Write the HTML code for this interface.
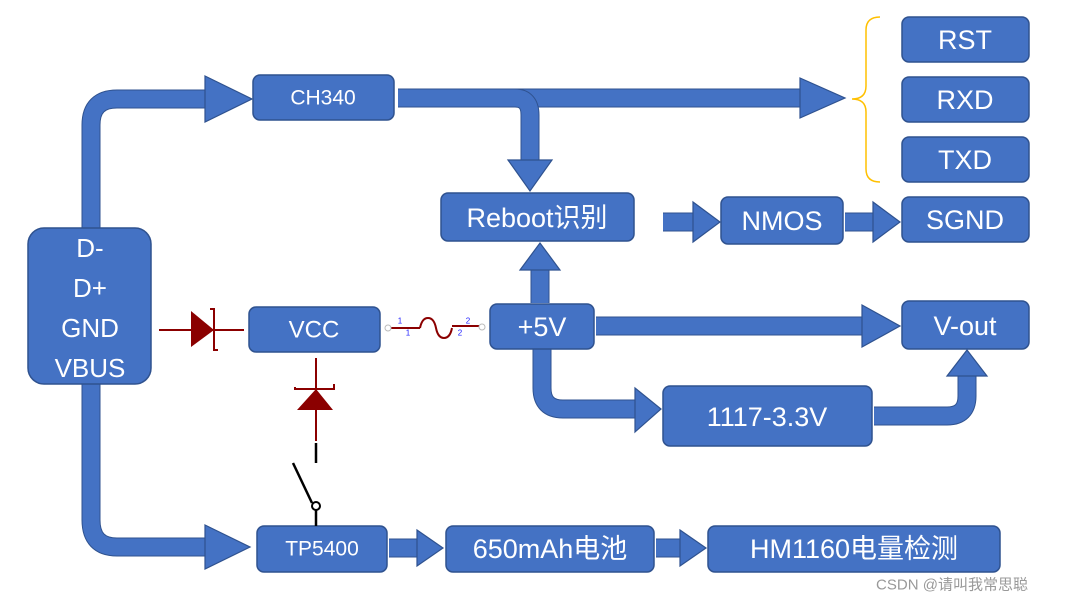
<!DOCTYPE html>
<html><head><meta charset="utf-8"><style>
html,body{margin:0;padding:0;background:#fff;}
svg{display:block;}
text{font-family:"Liberation Sans","Noto Sans CJK SC",sans-serif;fill:#fff;text-anchor:middle;dominant-baseline:central;}
.b{fill:#4472C4;stroke:#2F528F;stroke-width:1.5;}
.so{fill:none;stroke:#2F528F;stroke-width:19;}
.si{fill:none;stroke:#4472C4;stroke-width:17;}
.h{fill:#4472C4;stroke:#2F528F;stroke-width:1.2;}
</style></head><body>
<svg width="1070" height="603" viewBox="0 0 1070 603" xmlns="http://www.w3.org/2000/svg">
<!-- connectors -->
<g>
<path class="so" d="M91 230 V125 Q91 99 117 99 H210"/><path class="si" d="M91 230 V125 Q91 99 117 99 H210"/>
<polygon class="h" points="205,76 252,99 205,122"/>
<path class="so" d="M398 98 H805"/><path class="si" d="M398 98 H805"/>
<polygon class="h" points="800,78 845,98 800,118"/>
<path class="so" d="M500 98 H515 Q530 98 530 115 V165"/><path class="si" d="M500 98 H515 Q530 98 530 115 V165"/>
<polygon class="h" points="508,160 530,191 552,160"/>
<path class="so" d="M91 384 V520 Q91 547 117 547 H210"/><path class="si" d="M91 384 V520 Q91 547 117 547 H210"/>
<polygon class="h" points="205,525 250,547 205,569"/>
<path class="so" d="M663 222 H697"/><path class="si" d="M663 222 H697"/>
<polygon class="h" points="693,202 720,222 693,242"/>
<path class="so" d="M845 222 H877"/><path class="si" d="M845 222 H877"/>
<polygon class="h" points="873,202 900,222 873,242"/>
<path class="so" d="M540 303 V266"/><path class="si" d="M540 303 V266"/>
<polygon class="h" points="520,270 540,243 560,270"/>
<path class="so" d="M596 326 H865"/><path class="si" d="M596 326 H865"/>
<polygon class="h" points="862,305 900,326 862,347"/>
<path class="so" d="M542 349 V388 Q542 409 563 409 H640"/><path class="si" d="M542 349 V388 Q542 409 563 409 H640"/>
<polygon class="h" points="635,388 661,409 635,432"/>
<path class="so" d="M874 416 H947 Q967 416 967 396 V372"/><path class="si" d="M874 416 H947 Q967 416 967 396 V372"/>
<polygon class="h" points="947,376 967,350 987,376"/>
<path class="so" d="M389 548 H420"/><path class="si" d="M389 548 H420"/>
<polygon class="h" points="417,530 443,548 417,566"/>
<path class="so" d="M656 548 H683"/><path class="si" d="M656 548 H683"/>
<polygon class="h" points="680,530 706,548 680,566"/>
</g>
<!-- boxes -->
<rect class="b" x="28" y="228" width="123" height="156" rx="16"/>
<text x="90" y="248" font-size="26">D-</text>
<text x="90" y="288" font-size="26">D+</text>
<text x="90" y="328" font-size="26">GND</text>
<text x="90" y="368" font-size="26">VBUS</text>
<rect class="b" x="253" y="75" width="141" height="45" rx="7"/><text x="323" y="98" font-size="21">CH340</text>
<rect class="b" x="441" y="193" width="193" height="48" rx="7"/><text x="537" y="218" font-size="27">Reboot识别</text>
<rect class="b" x="721" y="197" width="122" height="47" rx="7"/><text x="782" y="221" font-size="27">NMOS</text>
<rect class="b" x="902" y="197" width="127" height="45" rx="7"/><text x="965" y="220" font-size="27">SGND</text>
<rect class="b" x="902" y="17" width="127" height="45" rx="7"/><text x="965" y="40" font-size="27">RST</text>
<rect class="b" x="902" y="77" width="127" height="45" rx="7"/><text x="965" y="100" font-size="27">RXD</text>
<rect class="b" x="902" y="137" width="127" height="45" rx="7"/><text x="965" y="160" font-size="27">TXD</text>
<path d="M880 17 Q866 17 866 30 V86 Q866 99 852 99 Q866 99 866 112 V169 Q866 182 880 182" fill="none" stroke="#FFC000" stroke-width="1.5"/>
<rect class="b" x="490" y="304" width="104" height="45" rx="7"/><text x="542" y="327" font-size="27">+5V</text>
<rect class="b" x="902" y="301" width="127" height="48" rx="7"/><text x="965" y="326" font-size="27">V-out</text>
<rect class="b" x="663" y="386" width="209" height="60" rx="7"/><text x="767" y="417" font-size="27">1117-3.3V</text>
<rect class="b" x="249" y="307" width="131" height="45" rx="7"/><text x="314" y="330" font-size="24">VCC</text>
<rect class="b" x="257" y="526" width="130" height="46" rx="7"/><text x="322" y="549" font-size="21">TP5400</text>
<rect class="b" x="446" y="526" width="208" height="46" rx="7"/><text x="550" y="549" font-size="27">650mAh电池</text>
<rect class="b" x="708" y="526" width="292" height="46" rx="7"/><text x="854" y="549" font-size="27">HM1160电量检测</text>
<!-- diode left -->
<g stroke="#8B0000" fill="#8B0000">
<line x1="159" y1="330" x2="244" y2="330" stroke-width="2"/>
<polygon points="191,311 214,330 191,347" stroke="none"/>
<polyline points="210,309 214,309 214,350 218,350" fill="none" stroke-width="2"/>
<line x1="316" y1="358" x2="316" y2="441" stroke-width="2"/>
<polygon points="297,410 316,389 333,410" stroke="none"/>
<polyline points="295,387 295,389 334,389 334,384" fill="none" stroke-width="2"/>
<line x1="388" y1="328" x2="420" y2="328" stroke-width="2"/>
<path d="M420 328 Q422 318 428 318 Q434 318 436 328 Q438 338 444 338 Q450 338 452 328" fill="none" stroke-width="2"/>
<line x1="452" y1="326" x2="482" y2="326" stroke-width="2"/>
</g>
<circle cx="388" cy="328" r="3" fill="#fff" stroke="#bbb"/><circle cx="482" cy="327" r="3" fill="#fff" stroke="#bbb"/>
<text x="400" y="321" font-size="8" style="fill:#22f">1</text><text x="408" y="333" font-size="8" style="fill:#22f">1</text>
<text x="468" y="321" font-size="8" style="fill:#22f">2</text><text x="460" y="333" font-size="8" style="fill:#22f">2</text>
<!-- switch -->
<g stroke="#000" stroke-width="2.5" fill="#fff">
<line x1="316" y1="443" x2="316" y2="463"/>
<line x1="293" y1="463" x2="312" y2="503"/>
<circle cx="316" cy="506" r="4" stroke-width="2"/>
<line x1="316" y1="510" x2="316" y2="526"/>
</g>
<text x="952" y="585" font-size="15" style="fill:#999">CSDN @请叫我常思聪</text>
</svg>
</body></html>
